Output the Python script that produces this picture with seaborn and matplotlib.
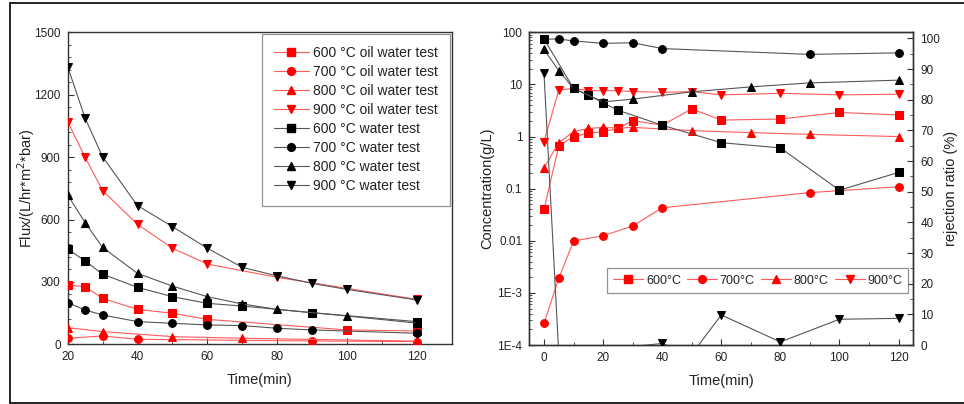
import numpy as np
import matplotlib
matplotlib.use("Agg")
import matplotlib.pyplot as plt
import seaborn as sns
from matplotlib.ticker import MultipleLocator, FixedLocator, FixedFormatter, LogLocator, NullFormatter
from matplotlib.lines import Line2D

sns.set_style("ticks")
plt.rcParams['font.family'] = ['Liberation Sans', 'DejaVu Sans']

# ---- left panel: flux vs time ----
t_oil_600 = [20, 25, 30, 40, 50, 60, 100, 120]
flux_oil_600 = [285, 277, 221, 168, 149, 120, 69, 64]
t_oil_700 = [20, 30, 40, 90, 120]
flux_oil_700 = [29, 40, 24, 16, 13]
t_oil_800 = [20, 30, 50, 70, 120]
flux_oil_800 = [80, 61, 37, 29, 15]
t_oil_900 = [20, 25, 30, 40, 50, 60, 80, 120]
flux_oil_900 = [1071, 899, 739, 577, 462, 386, 322, 216]

t_wat_600 = [20, 25, 30, 40, 50, 60, 70, 90, 120]
flux_wat_600 = [458, 401, 337, 274, 229, 197, 184, 152, 109]
t_wat_700 = [20, 25, 30, 40, 50, 60, 70, 80, 90, 120]
flux_wat_700 = [200, 165, 141, 109, 101, 93, 90, 77, 69, 53]
t_wat_800 = [20, 25, 30, 40, 50, 60, 70, 80, 100, 120]
flux_wat_800 = [718, 585, 466, 341, 280, 229, 194, 168, 136, 102]
t_wat_900 = [20, 25, 30, 40, 50, 60, 70, 80, 90, 100, 120]
flux_wat_900 = [1335, 1087, 902, 667, 566, 462, 370, 329, 293, 264, 213]

# ---- right panel: concentration (red, log) and rejection ratio (black) ----
t_c600 = [0, 5, 10, 15, 20, 25, 30, 40, 50, 60, 80, 100, 120]
conc_600 = [0.040, 0.66, 1.0, 1.16, 1.24, 1.43, 2.02, 1.65, 3.4, 2.07, 2.17, 2.9, 2.6]
t_c700 = [0, 5, 10, 20, 30, 40, 90, 120]
conc_700 = [2.6e-4, 1.9e-3, 0.0099, 0.0125, 0.0192, 0.043, 0.084, 0.109]
t_c800 = [0, 5, 10, 15, 20, 25, 30, 50, 70, 90, 120]
conc_800 = [0.25, 0.76, 1.24, 1.43, 1.5, 1.45, 1.5, 1.3, 1.19, 1.1, 1.0]
t_c900 = [0, 5, 10, 15, 20, 25, 30, 40, 50, 60, 80, 100, 120]
conc_900 = [0.80, 7.8, 8.4, 7.6, 7.6, 7.6, 7.3, 7.05, 7.3, 6.3, 6.75, 6.3, 6.5]

t_r600 = [0, 10, 15, 20, 25, 40, 60, 80, 100, 120]
rej_600 = [99.8, 83.7, 81.5, 79.0, 76.6, 71.7, 66.0, 64.3, 50.5, 56.3]
t_r700 = [0, 5, 10, 20, 30, 40, 90, 120]
rej_700 = [99.8, 99.8, 99.2, 98.4, 98.6, 96.7, 94.8, 95.3]
t_r800 = [0, 5, 10, 20, 30, 50, 70, 90, 120]
rej_800 = [96.4, 89.5, 83.7, 79.3, 80.2, 82.6, 84.2, 85.5, 86.4]
t_r900 = [0, 5, 40, 50, 60, 80, 100, 120]
rej_900 = [88.6, -3, 0.5, -3, 9.8, 1.0, 8.4, 8.7]

temps = ["600", "700", "800", "900"]
marks = ["s", "o", "^", "v"]

RED = "#ff0000"
RED_LINE = "#ff5a5a"
BLK = "#000000"
BLK_LINE = "#555555"
TXT = "#222222"
MS = 5.6

fig = plt.figure(figsize=(9.64, 4.04), dpi=100)
ax1 = fig.add_axes([0.0702, 0.1478, 0.3984, 0.772])
ax2 = fig.add_axes([0.549, 0.146, 0.3984, 0.774])
ax3 = ax2.twinx()


def draw(ax, x, y, m, mc, lc):
    sns.lineplot(x=x, y=y, ax=ax, marker=m, color=lc, markerfacecolor=mc,
                 markeredgecolor=mc, markersize=MS, linewidth=0.8,
                 legend=False, zorder=3)


def handle(m, mc, lc, label):
    return Line2D([], [], marker=m, color=lc, markerfacecolor=mc,
                  markeredgecolor=mc, markersize=MS, linewidth=0.8, label=label)


oil = [(t_oil_600, flux_oil_600), (t_oil_700, flux_oil_700),
       (t_oil_800, flux_oil_800), (t_oil_900, flux_oil_900)]
wat = [(t_wat_600, flux_wat_600), (t_wat_700, flux_wat_700),
       (t_wat_800, flux_wat_800), (t_wat_900, flux_wat_900)]

handles = []
for (x, y), m, tmp in zip(oil, marks, temps):
    draw(ax1, x, y, m, RED, RED_LINE)
    handles.append(handle(m, RED, RED_LINE, f"{tmp} °C oil water test"))
for (x, y), m, tmp in zip(wat, marks, temps):
    draw(ax1, x, y, m, BLK, BLK_LINE)
    handles.append(handle(m, BLK, BLK_LINE, f"{tmp} °C water test"))

ax1.set_xlim(20, 130)
ax1.set_ylim(0, 1500)
ax1.xaxis.set_major_locator(MultipleLocator(20))
ax1.xaxis.set_minor_locator(MultipleLocator(10))
ax1.yaxis.set_major_locator(MultipleLocator(300))
ax1.yaxis.set_minor_locator(MultipleLocator(60))
ax1.set_xlabel("Time(min)", fontsize=10.5, color=TXT, labelpad=7)
ax1.set_ylabel("Flux/(L/hr*m$^2$*bar)", fontsize=10.5, color=TXT, labelpad=-2)
leg1 = ax1.legend(handles=handles, loc="upper right", fontsize=10, frameon=True,
                  fancybox=False, edgecolor="#777777", borderaxespad=0.1,
                  labelspacing=0.36, handlelength=2.5, handletextpad=0.3,
                  borderpad=0.9)
leg1.get_frame().set_linewidth(0.9)
for txt in leg1.get_texts():
    txt.set_color(TXT)

conc = [(t_c600, conc_600), (t_c700, conc_700), (t_c800, conc_800), (t_c900, conc_900)]
rej = [(t_r600, rej_600), (t_r700, rej_700), (t_r800, rej_800), (t_r900, rej_900)]
handles2 = []
for (x, y), m, tmp in zip(conc, marks, temps):
    draw(ax2, x, y, m, RED, RED_LINE)
    handles2.append(handle(m, RED, RED_LINE, f"{tmp}°C"))
for (x, y), m in zip(rej, marks):
    draw(ax3, x, y, m, BLK, BLK_LINE)

ax2.set_yscale("log")
ax2.set_xlim(-5, 125)
ax2.set_ylim(1e-4, 100)
ax2.xaxis.set_major_locator(MultipleLocator(20))
ax2.xaxis.set_minor_locator(MultipleLocator(10))
yt = [1e-4, 1e-3, 1e-2, 1e-1, 1, 10, 100]
ax2.yaxis.set_major_locator(FixedLocator(yt))
ax2.yaxis.set_major_formatter(FixedFormatter(["1E-4", "1E-3", "0.01", "0.1", "1", "10", "100"]))
ax2.yaxis.set_minor_locator(LogLocator(base=10, subs=np.arange(2, 10)))
ax2.yaxis.set_minor_formatter(NullFormatter())
ax2.set_xlabel("Time(min)", fontsize=10.5, color=TXT, labelpad=7)
ax2.set_ylabel("Concentration(g/L)", fontsize=10.5, color=TXT, labelpad=2)

ax3.set_ylim(0, 102)
ax3.yaxis.set_major_locator(MultipleLocator(10))
ax3.yaxis.set_minor_locator(MultipleLocator(5))
ax3.set_ylabel("rejection ratio (%)", fontsize=10.5, color=TXT, labelpad=3)

leg2 = ax3.legend(handles=handles2, loc="center", bbox_to_anchor=(0.595, 0.206),
                  ncol=4, fontsize=9, frameon=True, fancybox=False,
                  edgecolor="#777777", handlelength=2.4, handletextpad=0.2,
                  columnspacing=0.5, borderpad=0.5)
leg2.get_frame().set_linewidth(0.9)
for txt in leg2.get_texts():
    txt.set_color(TXT)

for ax in (ax1, ax2, ax3):
    ax.tick_params(which="both", direction="in", labelsize=8.5, colors="#333333",
                   labelcolor=TXT, pad=5)
    ax.tick_params(which="major", length=4, width=0.8)
    ax.tick_params(which="minor", length=2.2, width=0.6)
    for sp in ax.spines.values():
        sp.set_linewidth(1.0)
        sp.set_color("#333333")

# outer frame of the figure
fig.add_artist(Line2D([0.0104, 1.0], [0.9926, 0.9926], color="#111111", linewidth=1.3))
fig.add_artist(Line2D([0.0104, 1.0], [0.003, 0.003], color="#111111", linewidth=1.3))
fig.add_artist(Line2D([0.0104, 0.0104], [0.003, 0.9926], color="#111111", linewidth=1.3))

fig.savefig("out.png", dpi=100)
